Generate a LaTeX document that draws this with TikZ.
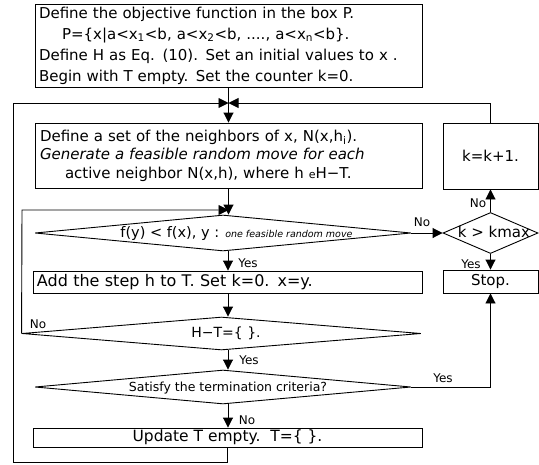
\documentclass[tikz,border=0pt]{standalone}
\usepackage{fontspec}
\setmainfont{DejaVu Sans}
\usetikzlibrary{arrows.meta,shapes.geometric}
\begin{document}
\begin{tikzpicture}[x=1pt,y=-1pt,
  line/.style={line width=0.9pt, draw=black},
  arr/.style={line, -{Triangle[length=10pt,width=10pt]}},
  box/.style={draw, line width=0.9pt, inner sep=0pt, rectangle},
  dia/.style={draw, line width=0.9pt, diamond, inner sep=0pt},
  lab/.style={font=\fontsize{12}{14}\selectfont, inner sep=0pt}
]
\useasboundingbox (0,0) rectangle (539,464);
\coordinate (col) at (228,0);
% boxes
\node[box, minimum width=387, minimum height=83, text width=379, align=left,
      font=\fontsize{15}{21}\selectfont] (init) at (228.5,45.5)
 {Define the objective function in the box P.\\
  \hspace*{23pt}P=\{x|a<x\textsubscript{1}<b, a<x\textsubscript{2}<b, ...., a<x\textsubscript{n}<b\}.\\
  Define H as Eq. (10). Set an initial values to x .\\
  Begin with T empty. Set the counter k=0.};
\node[box, minimum width=387, minimum height=65, text width=377, align=left,
      font=\fontsize{15}{18.5}\selectfont] (box2) at (228.5,155.5)
 {Define a set of the neighbors of x, N(x,h\textsubscript{i}).\\
  \textit{Generate a feasible random move for each}\\
  \hspace*{25pt}active neighbor N(x,h), where h {\fontsize{11}{11}\selectfont e}H−T.};
\node[box, minimum width=95, minimum height=66, font=\fontsize{15}{17}\selectfont] (kbox) at (490.5,156) {k=k+1.};
\node[dia, minimum width=376, minimum height=36] (fdia) at (223,233) {};
\node[inner sep=0pt] (ftext) at (236.5,233)
 {\fontsize{14.5}{16}\selectfont f(y) < f(x), y : {\fontsize{9.5}{11}\selectfont\itshape one feasible random move}};
\node[dia, minimum width=95, minimum height=41] (kdia) at (490.5,233) {};
\node[inner sep=0pt, font=\fontsize{15}{17}\selectfont] (ktext) at (494,232) {k > kmax};
\node[box, minimum width=389, minimum height=22, text width=381, align=left,
      font=\fontsize{16}{18}\selectfont] (add) at (227.5,282) {Add the step h to T. Set k=0. x=y.};
\node[box, minimum width=95, minimum height=23, font=\fontsize{15}{17}\selectfont] (stop) at (490.5,281.5) {Stop.};
\node[dia, minimum width=399, minimum height=33] (hdia) at (221.5,333.5) {};
\node[inner sep=0pt, font=\fontsize{14}{16}\selectfont] (htext) at (226,333) {H−T=\{\ \}.};
\node[dia, minimum width=376, minimum height=34] (tdia) at (223,387) {};
\node[inner sep=0pt, font=\fontsize{12.5}{14}\selectfont] (ttext) at (228,388) {Satisfy the termination criteria?};
\node[box, minimum width=389, minimum height=19, font=\fontsize{15.5}{17}\selectfont] (update) at (227.5,437.5) {Update T empty.\ \ T=\{\ \}.};
% helper coordinates
\coordinate (J) at (228.5,103);
\coordinate (LB) at (13,462);
\coordinate (LT) at (13,103);
\coordinate (RT) at (490.5,103);
\coordinate (IT) at (22,210);
\coordinate (IJ) at (228.5,210);
\coordinate (RY) at (490.5,387);
% connectors
\draw[arr] (init.south) -- (box2.north);
\draw[arr] (update.south) |- (LB) -- (LT) -- (J);
\draw[arr] (kbox.north) -- (RT) -- (J);
\draw[arr] (hdia.west) -- (IT) -- (IJ);
\draw[arr] (box2.south) -- (box2.south |- fdia.north);
\draw[arr] (fdia.east) -- (kdia.west);
\draw[arr] (kdia.north) -- (kbox.south);
\draw[arr] (kdia.south) -- (stop.north);
\draw[arr] (col |- fdia.south) -- (col |- add.north);
\draw[arr] (col |- add.south) -- (col |- hdia.north);
\draw[arr] (col |- hdia.south) -- (col |- tdia.north);
\draw[arr] (col |- tdia.south) -- (col |- update.north);
\draw[arr] (tdia.east) -- (RY) -- (stop.south);
% labels
\node[lab] (no1) at (478,203) {No};
\node[lab] (no2) at (422,222) {No};
\node[lab] (yes1) at (248,263) {Yes};
\node[lab] (yes2) at (471,264) {Yes};
\node[lab] (no3) at (38,324) {No};
\node[lab] (yes3) at (249,360) {Yes};
\node[lab] (yes4) at (443,378) {Yes};
\node[lab] (no4) at (247,420) {No};
\end{tikzpicture}
\end{document}
